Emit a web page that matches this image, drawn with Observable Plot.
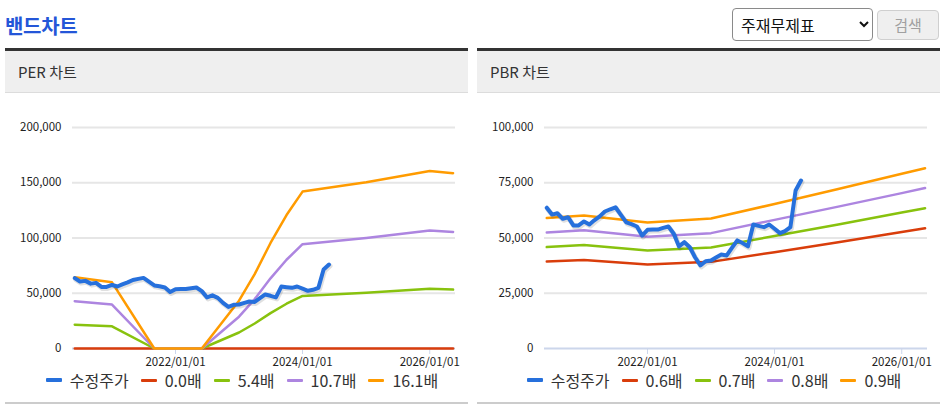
<!DOCTYPE html>
<html>
<head>
<meta charset="utf-8">
<script src="https://cdn.jsdelivr.net/npm/d3@7"></script>
<script src="https://cdn.jsdelivr.net/npm/@observablehq/plot@0.6"></script>
<style>
  html, body { margin: 0; padding: 0; background: #fff; }
  body { font-family: "Noto Sans CJK KR", "Noto Sans", sans-serif; }
  #root { position: relative; width: 943px; height: 413px; overflow: hidden; }
  .title { position: absolute; left: 5px; top: 11px; font-size: 20px; font-weight: bold; color: #2456d8; letter-spacing: -0.3px; }
  select { position: absolute; left: 732px; top: 8px; width: 141px; height: 33px; font-size: 16px;
           font-family: "Noto Sans CJK KR", sans-serif; border: 1px solid #8a8a8a; border-radius: 4px; background: #fff; color: #111; padding-left: 4px; }
  .btn { position: absolute; left: 877px; top: 10px; width: 62px; height: 30px; box-sizing: border-box;
         border: 1px solid #cfcfcf; border-radius: 4px; background: #efefef; color: #a0a0a0;
         font-size: 15px; line-height: 28px; text-align: center; }
  .topline { position: absolute; top: 48px; height: 3px; width: 463px; background: #333; }
  .phead { position: absolute; top: 51px; height: 41px; width: 463px; background: #efefef; border-bottom: 1px solid #dcdcdc;
           font-size: 15px; color: #333; line-height: 41px; box-sizing: content-box; }
  .phead span { padding-left: 13px; }
  .chart { position: absolute; top: 93px; width: 463px; height: 280px; }
  .legend { position: absolute; top: 370px; width: 463px; height: 20px; display: flex; justify-content: center; align-items: center;
            font-size: 16px; color: #333; box-sizing: border-box; padding-left: 11px; }
  .item { display: flex; align-items: center; margin: 0 6px; }
  .sw { width: 16px; border-radius: 1px; margin-right: 8px; }
  .bottom { position: absolute; top: 402px; height: 2px; width: 463px; background: #cccccc; }
</style>
</head>
<body>
<div id="root">
  <div class="title">밴드차트</div>
  <select><option>주재무제표</option></select>
  <div class="btn">검색</div>

  <div class="topline" style="left:5px"></div>
  <div class="phead" style="left:5px"><span>PER 차트</span></div>
  <div class="chart" id="perChart" style="left:5px"></div>
  <div class="legend" id="perLegend" style="left:5px"></div>
  <div class="bottom" style="left:5px"></div>

  <div class="topline" style="left:477px"></div>
  <div class="phead" style="left:477px"><span>PBR 차트</span></div>
  <div class="chart" id="pbrChart" style="left:477px"></div>
  <div class="legend" id="pbrLegend" style="left:477px"></div>
  <div class="bottom" style="left:477px"></div>
</div>

<script>
// ---------------- data ----------------
const priceDates = [
  "2020-06-01","2020-07-01","2020-08-01","2020-09-01","2020-10-01","2020-11-01","2020-12-01",
  "2021-01-01","2021-02-01","2021-03-01","2021-04-01","2021-05-01","2021-06-01","2021-07-01",
  "2021-08-01","2021-09-01","2021-10-01","2021-11-01","2021-12-01",
  "2022-01-01","2022-02-01","2022-03-01","2022-04-01","2022-05-01","2022-06-01","2022-07-01",
  "2022-08-01","2022-09-01","2022-10-01","2022-11-01","2022-12-01",
  "2023-01-01","2023-02-01","2023-03-01","2023-04-01","2023-05-01","2023-06-01","2023-07-01",
  "2023-08-01","2023-09-01","2023-10-01","2023-11-01","2023-12-01",
  "2024-01-01","2024-02-01","2024-03-01","2024-04-01","2024-05-01","2024-06-01"
];
const priceValues = [
  63700, 60600, 61200, 58700, 59400, 55700, 55700,
  57500, 56100, 58000, 59800, 62000, 63000, 63900,
  60500, 57100, 56300, 55200, 51100,
  53700, 53800, 53800, 54600, 55200, 51900, 46200,
  48100, 45800, 41300, 37600, 39500,
  39800, 41300, 42500, 42100, 45500, 48900, 47700,
  46200, 56100, 55500, 54900, 56100,
  54200, 52200, 53100, 54900, 71500, 76000
];

const perBandDates = ["2020-06-01","2021-01-01","2021-09-01","2022-06-01","2023-01-01","2023-04-01",
                      "2023-07-01","2023-10-01","2024-01-01","2025-01-01","2026-01-01","2026-05-15"];
const perBand0 = [0, 0, 0, 0, 0, 0, 0, 0, 0, 0, 0, 0];
const perBand1 = [21600, 20100, 0, 0, 14500, 22600, 32000, 40500, 47600, 50500, 54000, 53300];
const perBand2 = [42800, 39800, 0, 0, 28800, 44700, 63500, 80300, 94400, 100000, 106800, 105500];
const perBand3 = [64400, 59900, 0, 0, 43300, 67300, 95500, 120800, 142000, 150500, 160700, 158700];
const perLabels = ["수정주가", "0.0배", "5.4배", "10.7배", "16.1배"];
const perYTicks = [0, 50000, 100000, 150000, 200000];

const pbrBandDates = ["2020-06-01","2021-01-01","2022-01-01","2023-01-01","2024-01-01","2025-01-01","2026-01-01","2026-05-15"];
const pbrBand0 = [39400, 40100, 38000, 39200, 43600, 48100, 52700, 54400];
const pbrBand1 = [45900, 46800, 44300, 45700, 50900, 56100, 61500, 63500];
const pbrBand2 = [52500, 53500, 50600, 52200, 58200, 64200, 70300, 72600];
const pbrBand3 = [59000, 60200, 57000, 58800, 65400, 72200, 79100, 81600];
const pbrLabels = ["수정주가", "0.6배", "0.7배", "0.8배", "0.9배"];
const pbrYTicks = [0, 25000, 50000, 75000, 100000];

const xTickDates = ["2022-01-01", "2024-01-01", "2026-01-01"];
const xDomainDates = ["2020-05-19", "2026-05-29"];

// ---------------- style ----------------
const seriesColors = ["#2670dc", "#d93d0b", "#88c20e", "#ad85e0", "#ff9b00"];
const FONT = '"Noto Sans CJK KR", "Noto Sans", sans-serif';

const parse = d3.utcParse("%Y-%m-%d");

function drawChart(el, legendEl, bandDates, bands, labels, yTicks) {
  const price = priceDates.map((d, i) => ({date: parse(d), value: priceValues[i]}));
  const bandRows = bands.flatMap((vals, k) =>
    bandDates.map((d, i) => ({date: parse(d), value: vals[i], name: labels[k + 1]})));
  const yMax = yTicks[yTicks.length - 1];

  const chart = Plot.plot({
    width: 463, height: 280,
    marginLeft: 67, marginRight: 13, marginTop: 34, marginBottom: 25,
    style: {fontFamily: FONT, fontSize: "11.5px", color: "#333", background: "transparent", overflow: "visible"},
    x: {type: "utc", domain: xDomainDates.map(parse)},
    y: {domain: [0, yMax]},
    color: {domain: labels.slice(1), range: seriesColors.slice(1)},
    marks: [
      Plot.ruleY(yTicks.filter(t => t > 0), {stroke: "#e6e6e6", strokeWidth: 2}),
      Plot.ruleY([0], {stroke: "#ccd6eb", strokeWidth: 2}),
      Plot.axisX(xTickDates.map(parse), {tickFormat: d3.utcFormat("%Y/%m/%d"), tickSize: 6, tickPadding: 3,
        stroke: "#ccd6eb", fill: "#222", label: null}),
      Plot.axisY(yTicks, {tickFormat: d3.format(","), tickSize: 0, tickPadding: 11, fill: "#222", label: null}),
      Plot.line(bandRows, {x: "date", y: "value", z: "name", stroke: "name", strokeWidth: 2.5,
        strokeLinejoin: "round", strokeLinecap: "round"}),
      Plot.line(price, {x: "date", y: "value", stroke: "#000", strokeOpacity: 0.12, strokeWidth: 5,
        dx: 1, dy: 1.5, strokeLinejoin: "round", strokeLinecap: "round"}),
      Plot.line(price, {x: "date", y: "value", stroke: seriesColors[0], strokeWidth: 4,
        strokeLinejoin: "round", strokeLinecap: "round"})
    ]
  });
  el.appendChild(chart);

  labels.forEach((lab, i) => {
    const item = document.createElement("div");
    item.className = "item";
    const sw = document.createElement("div");
    sw.className = "sw";
    sw.style.height = i === 0 ? "4px" : "3px";
    sw.style.background = seriesColors[i];
    const t = document.createElement("span");
    t.textContent = lab;
    item.appendChild(sw);
    item.appendChild(t);
    legendEl.appendChild(item);
  });
}

drawChart(document.getElementById("perChart"), document.getElementById("perLegend"),
  perBandDates, [perBand0, perBand1, perBand2, perBand3], perLabels, perYTicks);
drawChart(document.getElementById("pbrChart"), document.getElementById("pbrLegend"),
  pbrBandDates, [pbrBand0, pbrBand1, pbrBand2, pbrBand3], pbrLabels, pbrYTicks);
</script>
</body>
</html>
